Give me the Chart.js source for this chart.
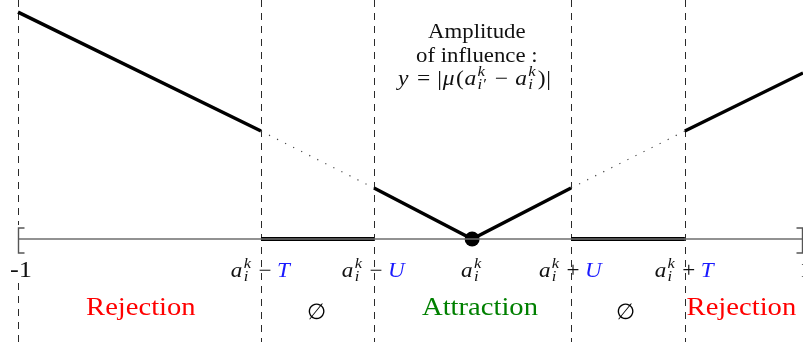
<!DOCTYPE html>
<html><head><meta charset="utf-8">
<script src="https://cdn.jsdelivr.net/npm/chart.js@4.4.1/dist/chart.umd.min.js"></script>
<style>html,body{margin:0;padding:0;background:#fff}#wrap{width:803px;height:342px;position:relative}</style>
</head><body><div id="wrap"><canvas id="c"></canvas></div>
<script>
// ---- data ----
const tickValues = [-1, -0.381, -0.093, 0.157, 0.409, 0.699, 1];
const tickLabels = ['-1', 'a_i^k - T', 'a_i^k - U', 'a_i^k', 'a_i^k + U', 'a_i^k + T', '1'];
const dividerValues = [-1, -0.381, -0.093, 0.409, 0.699];
const curveX = [-1, -0.381, -0.093, 0.157, 0.409, 0.699, 1];
const curveY = [0.578, 0.275, 0.130, 0, 0.130, 0.275, 0.423];
const regionLabels = ['Rejection', '∅', 'Attraction', '∅', 'Rejection'];
const regionX = [-0.687, -0.240, 0.177, 0.549, 0.843];
const regionColors = ['#ff0000', '#000000', '#008000', '#000000', '#ff0000'];
const titleLines = ['Amplitude', 'of influence :'];
const titleFormula = "y = | μ ( a_i'^k - a_i^k ) |";
const titleX = 0.169;
const centerValue = 0.157;

const pt = i => ({x: curveX[i], y: curveY[i]});
const gapAt = (a, b) => ({x: (curveX[a] + curveX[b]) / 2, y: null});
const solidData = [pt(0), pt(1), gapAt(1, 2), pt(2), pt(3), pt(4), gapAt(4, 5), pt(5), pt(6)];
const dottedData = [pt(1), pt(2), gapAt(2, 4), pt(4), pt(5)];
const nullData = [
  {x: tickValues[1], y: 0}, {x: tickValues[2], y: 0},
  {x: centerValue, y: null},
  {x: tickValues[4], y: 0}, {x: tickValues[5], y: 0}
];
const baseData = [{x: tickValues[0], y: 0}, {x: tickValues[6], y: 0}];

const SERIF = '"Liberation Serif"';

function fillStretched(ctx, text, x, y, sx) {
  ctx.save();
  ctx.translate(x, y);
  ctx.scale(sx, 1);
  ctx.fillText(text, 0, 0);
  ctx.restore();
}

function drawMath(ctx, label, cx, by, size, color, sx, gapF) {
  const f = {
    rm: `${size}px ${SERIF}`,
    it: `italic ${size}px ${SERIF}`,
    sit: `italic ${Math.round(size * 0.72)}px ${SERIF}`
  };
  const gap = size * gapF;
  function run(draw, x0) {
    let x = x0;
    label.split(' ').forEach(tok => {
      const m = tok.match(/^(\w)_(\w'?)\^(\w)$/);
      if (m) {
        ctx.font = f.it; ctx.fillStyle = color;
        if (draw) ctx.fillText(m[1], x, 0);
        x += ctx.measureText(m[1]).width + size * 0.06;
        ctx.font = f.sit;
        const sub = m[2].replace("'", '′');
        if (draw) { ctx.fillText(m[3], x, -size * 0.42); ctx.fillText(sub, x, size * 0.2); }
        x += Math.max(ctx.measureText(m[3]).width, ctx.measureText(sub).width) + size * 0.08;
      } else if (tok === '-' || tok === '+' || tok === '=') {
        ctx.font = f.rm; ctx.fillStyle = color;
        const t = tok === '-' ? '−' : tok;
        x += gap;
        if (draw) ctx.fillText(t, x, 0);
        x += ctx.measureText(t).width + gap;
      } else {
        const italic = /^[A-Za-zμ]$/.test(tok);
        ctx.font = italic ? f.it : f.rm;
        ctx.fillStyle = (tok === 'T' || tok === 'U') ? '#1a1aff' : color;
        if (draw) ctx.fillText(tok, x, 0);
        x += ctx.measureText(tok).width + (italic ? size * 0.06 : size * 0.03);
      }
    });
    return x - x0;
  }
  ctx.save();
  ctx.textAlign = 'left'; ctx.textBaseline = 'alphabetic';
  const w = run(false, 0);
  ctx.translate(cx, by);
  ctx.scale(sx, 1);
  run(true, -w / 2);
  ctx.restore();
}

const decor = {
  id: 'decor',
  beforeDatasetsDraw(chart) {
    const {ctx, scales: {x, y}} = chart;
    const H = chart.height;
    const y0 = y.getPixelForValue(0);
    ctx.save();
    ctx.strokeStyle = '#2a2a2a'; ctx.lineWidth = 1; ctx.setLineDash([7, 6]);
    dividerValues.forEach(v => {
      const px = Math.round(x.getPixelForValue(v)) + 0.5;
      ctx.beginPath();
      if (v === tickValues[0]) {
        ctx.moveTo(px, 0); ctx.lineTo(px, y0 - 14);
        ctx.moveTo(px, y0 + 44); ctx.lineTo(px, H);
      } else {
        ctx.moveTo(px, 0); ctx.lineTo(px, H);
      }
      ctx.stroke();
    });
    ctx.restore();
  },
  afterDatasetsDraw(chart) {
    const {ctx, scales: {x, y}} = chart;
    const y0 = y.getPixelForValue(0);
    ctx.save();
    // brackets at the ends of the interval
    ctx.strokeStyle = '#555'; ctx.lineWidth = 1.4; ctx.setLineDash([]);
    const lx = Math.round(x.getPixelForValue(tickValues[0])) + 0.5;
    ctx.beginPath();
    ctx.moveTo(lx + 6, y0 - 11); ctx.lineTo(lx, y0 - 11); ctx.lineTo(lx, y0 + 14); ctx.lineTo(lx + 6, y0 + 14);
    ctx.stroke();
    const rx = Math.round(x.getPixelForValue(tickValues[6])) - 0.5;
    ctx.beginPath();
    ctx.moveTo(rx - 6, y0 - 11); ctx.lineTo(rx, y0 - 11); ctx.lineTo(rx, y0 + 14); ctx.lineTo(rx - 6, y0 + 14);
    ctx.stroke();
    // tick labels
    tickLabels.forEach((lab, i) => {
      const px = x.getPixelForValue(tickValues[i]);
      if (/^-?\d+$/.test(lab)) {
        ctx.font = `24px ${SERIF}`; ctx.fillStyle = '#111';
        ctx.textAlign = 'center'; ctx.textBaseline = 'alphabetic';
        fillStretched(ctx, lab, px + 3, y0 + 38, 1.1);
      } else {
        drawMath(ctx, lab, px, y0 + 38, 21, '#111', 1.1, 0.24);
      }
    });
    // region labels
    regionLabels.forEach((lab, i) => {
      const px = x.getPixelForValue(regionX[i]);
      ctx.textAlign = 'center'; ctx.textBaseline = 'alphabetic';
      ctx.fillStyle = regionColors[i];
      if (lab === '∅') {
        ctx.font = '22px "DejaVu Serif"';
        ctx.fillText(lab, px, y0 + 80);
      } else {
        ctx.font = `26px ${SERIF}`;
        fillStretched(ctx, lab, px, y0 + 76, 1.1);
      }
    });
    // title
    const tx = x.getPixelForValue(titleX);
    ctx.fillStyle = '#111'; ctx.textAlign = 'center'; ctx.textBaseline = 'alphabetic';
    ctx.font = `20px ${SERIF}`;
    fillStretched(ctx, titleLines[0], tx, 38, 1.14);
    fillStretched(ctx, titleLines[1], tx, 62, 1.14);
    drawMath(ctx, titleFormula, tx - 2, 85, 21, '#111', 1.12, 0.3);
    ctx.restore();
  }
};

new Chart(document.getElementById('c'), {
  type: 'line',
  data: {
    datasets: [
      {data: baseData, borderColor: '#6e6e6e', borderWidth: 1.6, pointRadius: 0},
      {data: dottedData, borderColor: '#444', borderWidth: 1.2, borderDash: [1.2, 7.8], pointRadius: 0},
      {data: nullData, borderColor: '#000', borderWidth: 4, pointRadius: 0},
      {data: solidData, borderColor: '#000', borderWidth: 3.4, pointRadius: 0},
      {data: [{x: centerValue, y: 0}], borderColor: '#000', backgroundColor: '#000', pointRadius: 7.5, pointBorderWidth: 0, showLine: false}
    ]
  },
  options: {
    responsive: true, maintainAspectRatio: false, animation: false,
    layout: {padding: 0, autoPadding: false},
    spanGaps: false,
    elements: {line: {tension: 0, fill: false}},
    plugins: {legend: {display: false}, tooltip: {enabled: false}, title: {display: false}},
    scales: {
      x: {type: 'linear', min: -1.0459, max: 1.0, display: false},
      y: {type: 'linear', min: -0.2624, max: 0.6089, display: false}
    }
  },
  plugins: [decor]
});
</script></body></html>
